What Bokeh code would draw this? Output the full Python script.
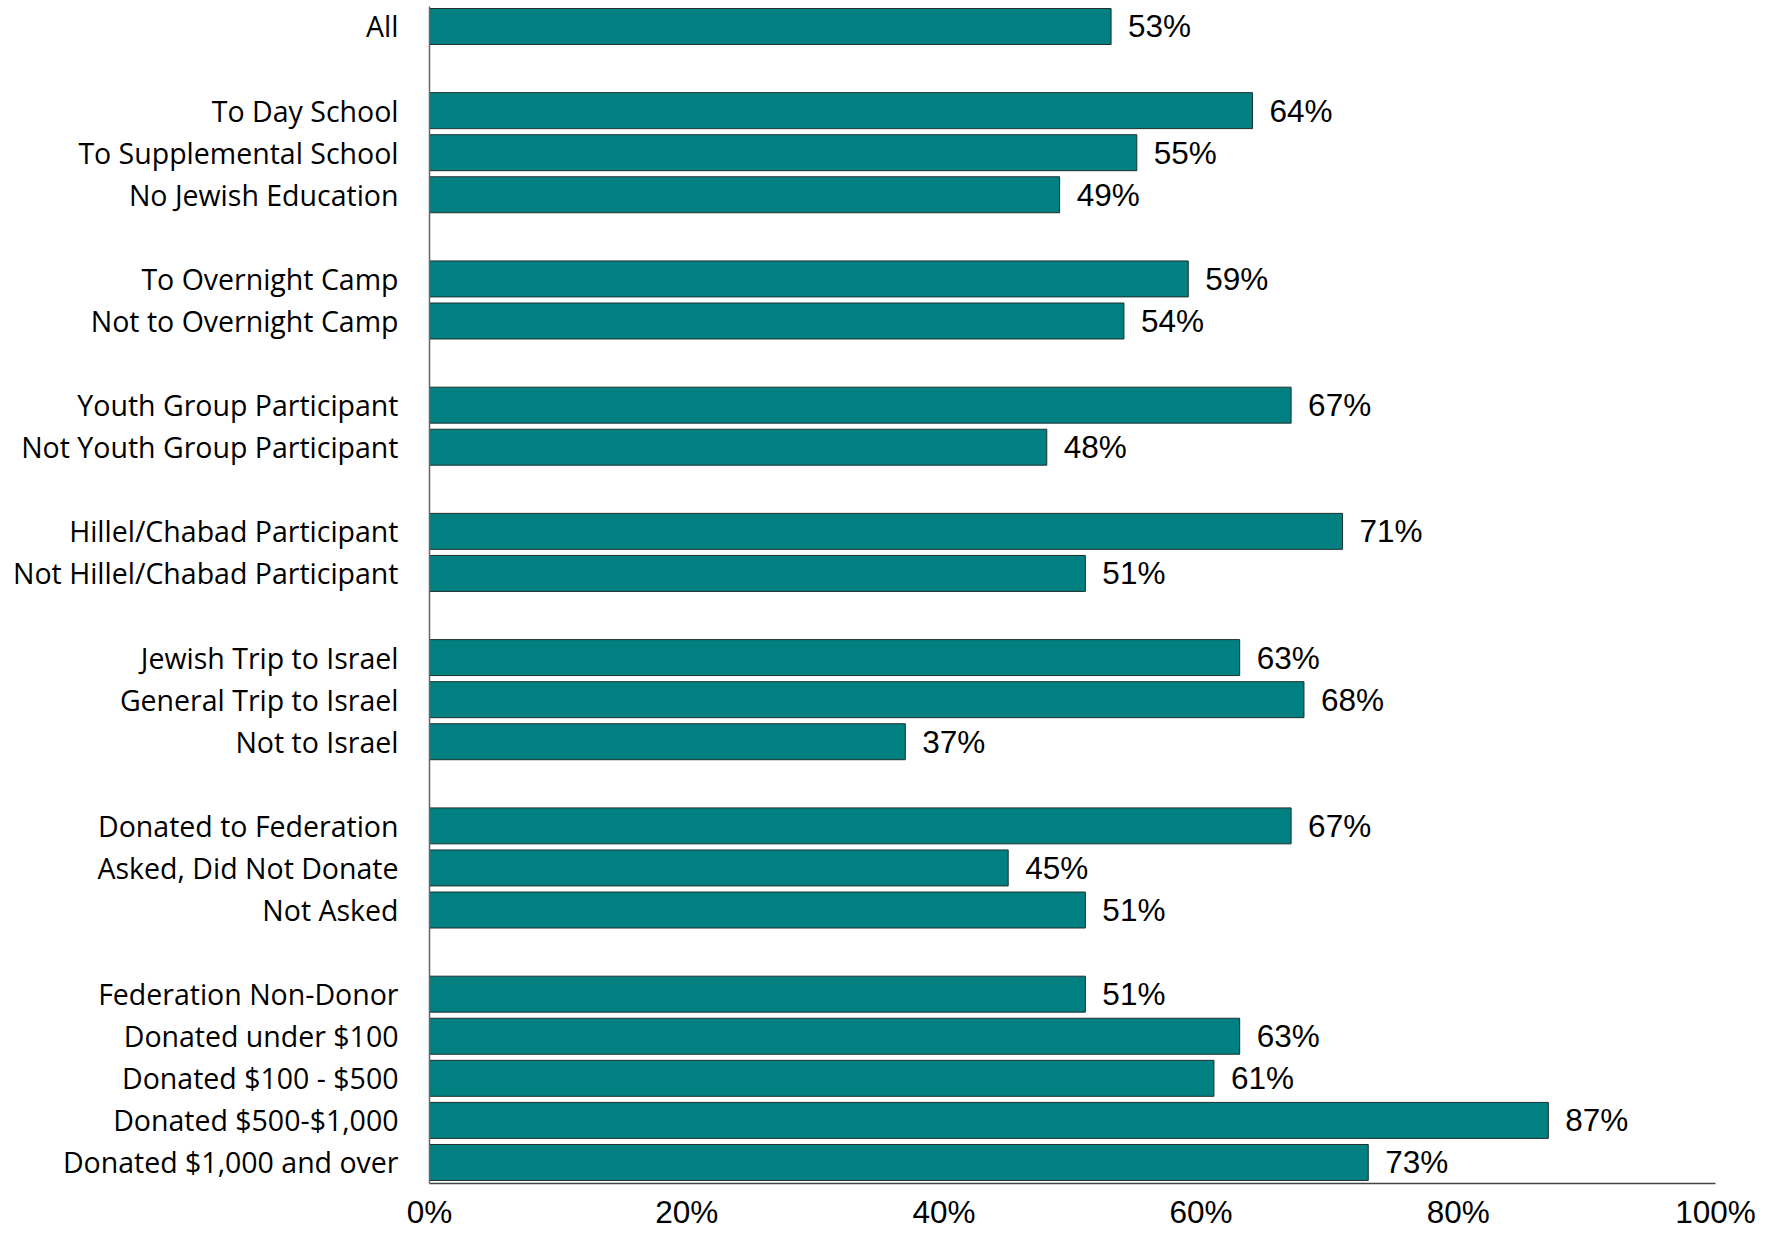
from bokeh.plotting import figure
from bokeh.models import Range1d, FixedTicker, ColumnDataSource
from bokeh.core.properties import value
from bokeh.embed import file_html
from bokeh.resources import INLINE

# ---- data ----
categories = [
    "All",
    "To Day School", "To Supplemental School", "No Jewish Education",
    "To Overnight Camp", "Not to Overnight Camp",
    "Youth Group Participant", "Not Youth Group Participant",
    "Hillel/Chabad Participant", "Not Hillel/Chabad Participant",
    "Jewish Trip to Israel", "General Trip to Israel", "Not to Israel",
    "Donated to Federation", "Asked, Did Not Donate", "Not Asked",
    "Federation Non-Donor", "Donated under $100", "Donated $100 - $500",
    "Donated $500-$1,000", "Donated $1,000 and over",
]
values = [53, 64, 55, 49, 59, 54, 67, 48, 71, 51, 63, 68, 37, 67, 45, 51, 51, 63, 61, 87, 73]
group_sizes = [1, 3, 2, 2, 2, 3, 3, 5]
x_ticks = [0, 20, 40, 60, 80, 100]
x_tick_labels = ["0%", "20%", "40%", "60%", "80%", "100%"]

# slot positions (one blank slot between groups)
slots = []
pos = 0
for g in group_sizes:
    for _ in range(g):
        slots.append(pos)
        pos += 1
    pos += 1

src = ColumnDataSource(dict(
    y=slots, v=values, lab=[f"{v}%" for v in values],
))

p = figure(width=1760, height=1236, output_backend="svg", toolbar_location=None,
           x_range=Range1d(0, 100), y_range=Range1d(27.5, -0.475),
           min_border_left=429, min_border_right=45, min_border_top=6,
           min_border_bottom=53)
p.outline_line_color = None
p.xgrid.visible = False
p.ygrid.visible = False
p.background_fill_color = "white"
p.border_fill_color = "white"

p.hbar(y="y", right="v", left=0, height=0.855, source=src,
       fill_color="#008080", line_color="#1f2f2f", line_width=1)

p.text(x="v", y="y", text="lab", source=src, x_offset=17,
       text_align="left", text_baseline="middle",
       text_font=value("Liberation Sans"), text_font_size="31.5px",
       text_color="black")

# y axis
p.yaxis.ticker = FixedTicker(ticks=slots)
p.yaxis.major_label_overrides = {s: c for s, c in zip(slots, categories)}
p.yaxis.major_tick_line_color = None
p.yaxis.minor_tick_line_color = None
p.yaxis.major_tick_out = 0
p.yaxis.major_tick_in = 0
p.yaxis.major_label_standoff = 31
p.yaxis.major_label_text_font = "Open Sans"
p.yaxis.major_label_text_font_size = "28.5px"
p.yaxis.major_label_text_color = "black"
p.yaxis.axis_line_color = "#666666"
p.yaxis.axis_line_width = 1.5

# x axis
p.xaxis.ticker = FixedTicker(ticks=x_ticks)
p.xaxis.major_label_overrides = {t: l for t, l in zip(x_ticks, x_tick_labels)}
p.xaxis.major_tick_line_color = None
p.xaxis.minor_tick_line_color = None
p.xaxis.major_tick_out = 0
p.xaxis.major_tick_in = 0
p.xaxis.major_label_standoff = 10
p.xaxis.major_label_text_font = "Liberation Sans"
p.xaxis.major_label_text_font_size = "31.5px"
p.xaxis.major_label_text_color = "black"
p.xaxis.axis_line_color = "#444444"
p.xaxis.axis_line_width = 1.5

open("out.html", "w").write(file_html(p, INLINE))
